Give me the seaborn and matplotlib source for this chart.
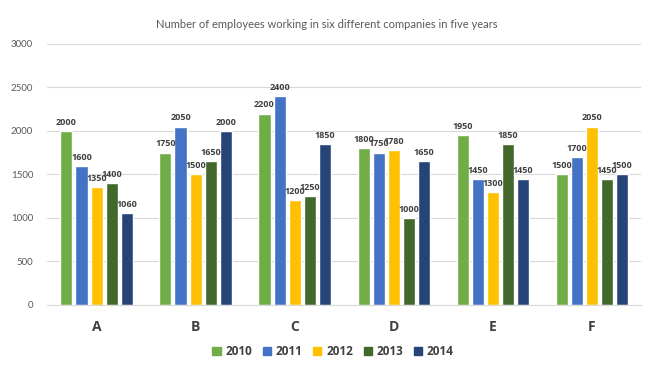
import pandas as pd
import matplotlib.pyplot as plt
import seaborn as sns

companies = ["A", "B", "C", "D", "E", "F"]
years = ["2010", "2011", "2012", "2013", "2014"]
v2010 = [2000, 1750, 2200, 1800, 1950, 1500]
v2011 = [1600, 2050, 2400, 1750, 1450, 1700]
v2012 = [1350, 1500, 1200, 1780, 1300, 2050]
v2013 = [1400, 1650, 1250, 1000, 1850, 1450]
v2014 = [1060, 2000, 1850, 1650, 1450, 1500]
colors = ["#70AD47", "#4472C4", "#FFC000", "#43682B", "#264478"]

rows = []
for yr, vals in zip(years, [v2010, v2011, v2012, v2013, v2014]):
    for c, v in zip(companies, vals):
        rows.append({"company": c, "year": yr, "employees": v})
df = pd.DataFrame(rows)

sns.set_style("white")
plt.rcParams["font.family"] = ["Lato", "DejaVu Sans"]

fig = plt.figure(figsize=(6.53, 3.66), dpi=100)
ax = fig.add_axes([0.072, 0.167, 0.910, 0.713])
ax.set_axisbelow(True)
ax.yaxis.grid(True, color="#D9D9D9", linewidth=0.8)

sns.barplot(data=df, x="company", y="employees", hue="year", palette=colors,
            width=0.76, gap=0.2, ax=ax, legend=True, saturation=1)

for cont in ax.containers:
    ax.bar_label(cont, padding=3, fontsize=6.5, fontweight="bold", color="#404040",
                 family=["Open Sans", "DejaVu Sans"])

ax.set_ylim(0, 3000)
ax.set_yticks(range(0, 3001, 500))
ax.set_xlim(-0.5, 5.5)
ax.set_xlabel("")
ax.set_ylabel("")
ax.tick_params(axis="y", labelsize=7, colors="#595959", length=0, pad=10)
ax.tick_params(axis="x", labelsize=10, colors="#404040", length=0, pad=11)
for lbl in ax.get_xticklabels():
    lbl.set_fontweight("bold")
    lbl.set_family(["Open Sans", "DejaVu Sans"])
for s in ["top", "right", "left"]:
    ax.spines[s].set_visible(False)
ax.spines["bottom"].set_color("#D9D9D9")

fig.suptitle("Number of employees working in six different companies in five years",
             y=0.947, fontsize=8, color="#595959")

ax.legend_.remove()
handles = [plt.Rectangle((0, 0), 1, 1, color=c) for c in colors]
fig.legend(handles, years, loc="center", bbox_to_anchor=(0.51, 0.04), ncol=5,
           frameon=False, handlelength=0.7, handleheight=0.7, handletextpad=0.4,
           columnspacing=0.9, labelcolor="#404040",
           prop={"size": 8.5, "weight": "bold", "family": ["Open Sans", "DejaVu Sans"]})

fig.savefig("out.png", dpi=100)
